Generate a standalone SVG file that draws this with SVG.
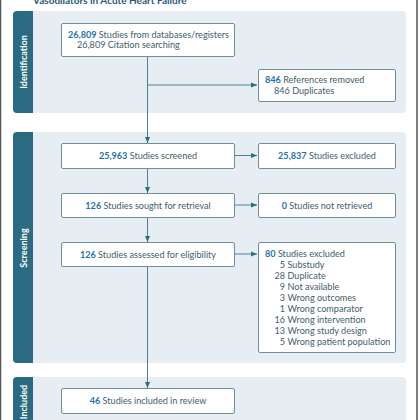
<svg xmlns="http://www.w3.org/2000/svg" width="420" height="420" viewBox="0 0 420 420">
<style>
.panel{fill:#e7eef3}
.band{fill:#2a6b82}
.box{fill:#ffffff;stroke:#6f8f9b;stroke-width:1}
.t{font-family:Lato,"Liberation Sans",sans-serif;font-size:9.1px;fill:#3f5e6b}
.n{font-weight:bold;fill:#1f73a8}
.side{font-family:Lato,"Liberation Sans",sans-serif;font-size:9px;font-weight:bold;fill:#ffffff}
.title{font-family:Lato,"Liberation Sans",sans-serif;font-size:10px;font-weight:bold;fill:#2a5a72}
.c{stroke:#4d8093;stroke-width:1;fill:none}
</style>
<defs>
<marker id="ah" viewBox="0 0 6 6" refX="6" refY="3" markerWidth="6" markerHeight="6" markerUnits="userSpaceOnUse" orient="auto">
<path d="M0,0.5 L6,3 L0,5.5 Z" fill="#2f6c82"/>
</marker>
</defs>
<rect width="420" height="420" fill="#ffffff"/>
<line x1="0.5" y1="0" x2="0.5" y2="420" stroke="#555" stroke-width="1.5"/>
<line x1="417" y1="0" x2="417" y2="420" stroke="#555" stroke-width="1.5"/>
<text class="title" x="33" y="3.5">Vasodilators in Acute Heart Failure</text>

<g id="phase-identification">
<rect class="panel" x="13" y="11" width="393" height="102" rx="4"/>
<path class="band" d="M17,11 H33 V113 H17 A4,4 0 0 1 13,109 V15 A4,4 0 0 1 17,11 Z"/>
<text class="side" transform="translate(26.5,62) rotate(-90)" text-anchor="middle">Identification</text>
</g>
<g id="phase-screening">
<rect class="panel" x="13" y="132" width="393" height="231" rx="4"/>
<path class="band" d="M17,132 H33 V363 H17 A4,4 0 0 1 13,359 V136 A4,4 0 0 1 17,132 Z"/>
<text class="side" transform="translate(26.5,248) rotate(-90)" text-anchor="middle">Screening</text>
</g>
<g id="phase-included">
<rect class="panel" x="13" y="377" width="393" height="60" rx="4"/>
<path class="band" d="M17,377 H33 V437 H17 A4,4 0 0 1 13,433 V381 A4,4 0 0 1 17,377 Z"/>
<text class="side" transform="translate(26.5,402) rotate(-90)" text-anchor="middle">Included</text>
</g>

<g id="connectors">
<line class="c" x1="147.5" y1="56" x2="147.5" y2="143" marker-end="url(#ah)"/>
<line class="c" x1="147.5" y1="85" x2="257" y2="85" marker-end="url(#ah)"/>
<line class="c" x1="147.5" y1="168" x2="147.5" y2="193" marker-end="url(#ah)"/>
<line class="c" x1="147.5" y1="217" x2="147.5" y2="242" marker-end="url(#ah)"/>
<line class="c" x1="147.5" y1="266" x2="147.5" y2="388" marker-end="url(#ah)"/>
<line class="c" x1="234" y1="155.5" x2="257" y2="155.5" marker-end="url(#ah)"/>
<line class="c" x1="234" y1="205" x2="257" y2="205" marker-end="url(#ah)"/>
<line class="c" x1="234" y1="254" x2="257" y2="254" marker-end="url(#ah)"/>
</g>

<g id="n-databases">
<rect class="box" x="61.5" y="23.5" width="173" height="33" rx="1.5"/>
<text class="t" x="68" y="37.5"><tspan class="n">26,809</tspan> Studies from databases/registers</text>
<text class="t" x="77" y="48">26,809 Citation searching</text>
</g>
<g id="n-removed">
<rect class="box" x="258.5" y="69.5" width="137" height="32" rx="1.5"/>
<text class="t" x="265" y="83"><tspan class="n">846</tspan> References removed</text>
<text class="t" x="274" y="93.5">846 Duplicates</text>
</g>
<g id="n-screened">
<rect class="box" x="61.5" y="143.5" width="173" height="25" rx="1.5"/>
<text class="t" x="148" y="159" text-anchor="middle"><tspan class="n">25,963</tspan> Studies screened</text>
</g>
<g id="n-excluded1">
<rect class="box" x="258.5" y="143.5" width="137" height="25" rx="1.5"/>
<text class="t" x="327" y="159" text-anchor="middle"><tspan class="n">25,837</tspan> Studies excluded</text>
</g>
<g id="n-sought">
<rect class="box" x="61.5" y="193.5" width="173" height="24" rx="1.5"/>
<text class="t" x="148" y="208.5" text-anchor="middle"><tspan class="n">126</tspan> Studies sought for retrieval</text>
</g>
<g id="n-notretrieved">
<rect class="box" x="258.5" y="193.5" width="137" height="24" rx="1.5"/>
<text class="t" x="327" y="208.5" text-anchor="middle"><tspan class="n">0</tspan> Studies not retrieved</text>
</g>
<g id="n-assessed">
<rect class="box" x="61.5" y="242.5" width="173" height="24" rx="1.5"/>
<text class="t" x="148" y="257.5" text-anchor="middle"><tspan class="n">126</tspan> Studies assessed for eligibility</text>
</g>
<g id="n-excluded2">
<rect class="box" x="258.5" y="242.5" width="137" height="110" rx="1.5"/>
<text class="t" x="265" y="257"><tspan class="n">80</tspan> Studies excluded</text>
<g class="t">
<text class="t" x="285" y="268" text-anchor="end">5</text><text class="t" x="287.5" y="268">Substudy</text>
<text class="t" x="285" y="279" text-anchor="end">28</text><text class="t" x="287.5" y="279">Duplicate</text>
<text class="t" x="285" y="290" text-anchor="end">9</text><text class="t" x="287.5" y="290">Not available</text>
<text class="t" x="285" y="301" text-anchor="end">3</text><text class="t" x="287.5" y="301">Wrong outcomes</text>
<text class="t" x="285" y="312" text-anchor="end">1</text><text class="t" x="287.5" y="312">Wrong comparator</text>
<text class="t" x="285" y="323" text-anchor="end">16</text><text class="t" x="287.5" y="323">Wrong intervention</text>
<text class="t" x="285" y="334" text-anchor="end">13</text><text class="t" x="287.5" y="334">Wrong study design</text>
<text class="t" x="285" y="345" text-anchor="end">5</text><text class="t" x="287.5" y="345">Wrong patient population</text>
</g>
</g>
<g id="n-included">
<rect class="box" x="61.5" y="388.5" width="173" height="25" rx="1.5"/>
<text class="t" x="148" y="404" text-anchor="middle"><tspan class="n">46</tspan> Studies included in review</text>
</g>
</svg>
